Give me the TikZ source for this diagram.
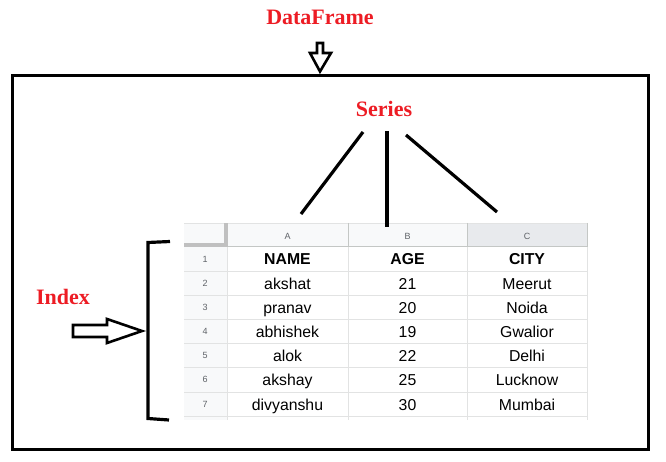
\documentclass[tikz,border=0pt]{standalone}
\usepackage{fontspec}
\setmainfont{Liberation Serif}
\newfontfamily\sheetfont{Liberation Sans}
\definecolor{lblred}{HTML}{ED1C24}
\definecolor{hdrbg}{HTML}{F8F9FA}
\definecolor{hdrsel}{HTML}{E8EAED}
\definecolor{gridc}{HTML}{E2E3E3}
\definecolor{hdrline}{HTML}{C4C7C5}
\definecolor{thickc}{HTML}{C0C0C0}
\definecolor{numc}{HTML}{5F6368}
\tikzset{
  lbl/.style={text=lblred, font=\fontsize{22}{26}\selectfont\bfseries, inner sep=0pt, anchor=base},
  cell/.style={font=\sheetfont\fontsize{15.8}{18}\selectfont, inner sep=0pt, text=black, anchor=base},
  hcell/.style={cell, font=\sheetfont\fontsize{15.8}{18}\selectfont\bfseries},
  rnum/.style={font=\sheetfont\fontsize{9}{10}\selectfont, text=numc, inner sep=0pt, anchor=base},
  thick line/.style={line width=3.2pt, black},
  hollow/.style={line width=2.6pt, black, fill=white, line join=miter},
  gline/.style={line width=1pt, gridc},
}
\begin{document}
\begin{tikzpicture}[x=1pt,y=-1pt]
\useasboundingbox (0,0) rectangle (666,462);
\fill[white] (0,0) rectangle (666,462);

% outer DataFrame box
\draw[line width=3.5pt] (12.5,75.5) rectangle (648.5,449.5);

% labels
\node[lbl] (df) at (320,24.5) {DataFrame};
\node[lbl] (series) at (384,117) {Series};
\node[lbl] (index) at (63,304) {Index};

% hollow down arrow
\draw[hollow] (317,43) -- (323,43) -- (323,53) -- (331,53) -- (320,71.5) -- (310,53) -- (317,53) -- cycle;

% hollow right arrow
\draw[hollow] (73,325) -- (107,325) -- (107,319) -- (142,331) -- (107,343) -- (107,337) -- (73,337) -- cycle;

% bracket
\draw[thick line, line join=miter] (170,241.5) -- (148,242.5) -- (148,418.5) -- (169,420);

% spreadsheet backgrounds
\fill[hdrbg] (184,223) rectangle (587,247);
\fill[hdrsel] (467,223) rectangle (587,247);
\fill[hdrbg] (184,247) rectangle (227,420);

% grid lines (rows)
\foreach \r in {271,295,319,343,367,392,416} {
  \draw[gline] (184,\r) -- (587,\r);
}
% grid lines (columns)
\draw[gline] (348,247) -- (348,420);
\draw[gline] (467,247) -- (467,420);
\draw[gline] (587,247) -- (587,420);
\draw[gline] (227,247) -- (227,420);
% header lines
\draw[line width=0.8pt, gridc] (184,223) -- (587,223);
\draw[line width=1pt, hdrline] (227,247) -- (587,247);
\draw[line width=1pt, hdrline] (348,223) -- (348,247);
\draw[line width=1pt, hdrline] (467,223) -- (467,247);
\draw[line width=1pt, hdrline] (587,223) -- (587,247);
% thick corner borders
\fill[thickc] (223.5,223) rectangle (227.5,247.3);
\fill[thickc] (184,243.3) rectangle (227.5,247.3);

% column letters
\node[rnum] (colA) at (287.5,239.5) {A};
\node[rnum] (colB) at (407.5,239.5) {B};
\node[rnum] (colC) at (527,239.5) {C};

% row numbers
\foreach \i/\yb in {1/262.5,2/286.5,3/310.5,4/334.5,5/358.5,6/382.5,7/407.5} {
  \node[rnum] (rn\i) at (205,\yb) {\i};
}

% header row
\node[hcell] (hA) at (287.5,265) {NAME};
\node[hcell] (hB) at (407.5,265) {AGE};
\node[hcell] (hC) at (527,265) {CITY};

% data rows
\node[cell] (a2) at (287.5,289) {akshat};
\node[cell] (b2) at (407.5,289) {21};
\node[cell] (c2) at (527,289) {Meerut};
\node[cell] (a3) at (287.5,313) {pranav};
\node[cell] (b3) at (407.5,313) {20};
\node[cell] (c3) at (527,313) {Noida};
\node[cell] (a4) at (287.5,337) {abhishek};
\node[cell] (b4) at (407.5,337) {19};
\node[cell] (c4) at (527,337) {Gwalior};
\node[cell] (a5) at (287.5,361) {alok};
\node[cell] (b5) at (407.5,361) {22};
\node[cell] (c5) at (527,361) {Delhi};
\node[cell] (a6) at (287.5,385) {akshay};
\node[cell] (b6) at (407.5,385) {25};
\node[cell] (c6) at (527,385) {Lucknow};
\node[cell] (a7) at (287.5,410) {divyanshu};
\node[cell] (b7) at (407.5,410) {30};
\node[cell] (c7) at (527,410) {Mumbai};

% series connectors
\coordinate (s1) at (363,132);
\coordinate (s2) at (387,131);
\coordinate (s3) at (406,135);
\coordinate (e1) at (301,214);
\coordinate (e2) at (387,227);
\coordinate (e3) at (497,212);
\draw[thick line] (s1) -- (e1);
\draw[thick line] (s2) -- (e2);
\draw[thick line] (s3) -- (e3);
\end{tikzpicture}
\end{document}
